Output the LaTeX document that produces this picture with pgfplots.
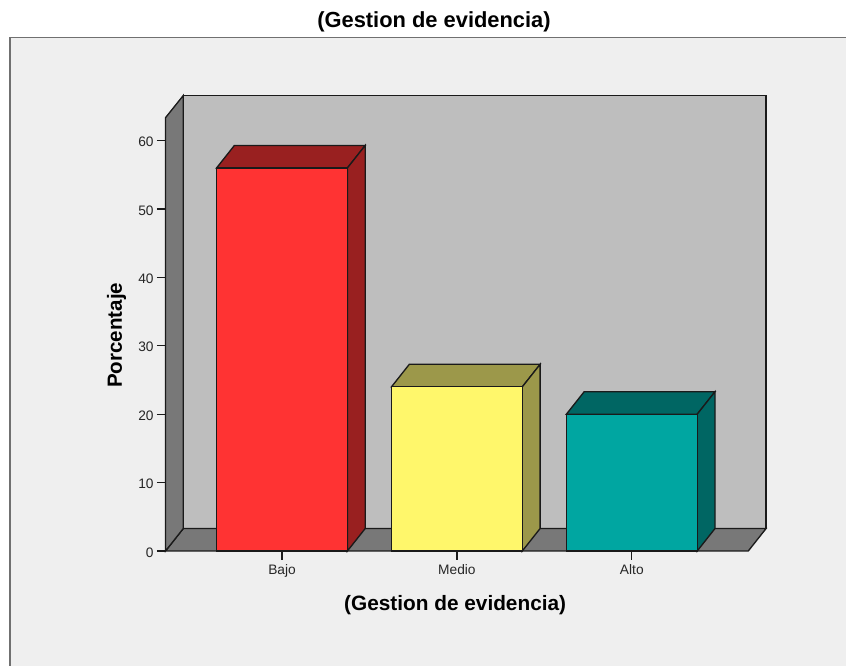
\documentclass[border=0pt]{standalone}
\usepackage{pgfplots}
\pgfplotsset{compat=1.18}
\usepackage{fontspec}
\setmainfont{Liberation Sans}
\definecolor{panel}{HTML}{EFEFEF}
\definecolor{panelline}{HTML}{707070}
\definecolor{wall}{HTML}{BEBEBE}
\definecolor{sidewall}{HTML}{787878}
\definecolor{redf}{HTML}{FF3333}
\definecolor{redd}{HTML}{992020}
\definecolor{yelf}{HTML}{FFF76B}
\definecolor{yeld}{HTML}{9C984A}
\definecolor{teaf}{HTML}{00A6A1}
\definecolor{tead}{HTML}{006663}
\definecolor{edge}{HTML}{1A1A1A}
\begin{document}
\begin{tikzpicture}
\path[use as bounding box] (0,0) rectangle (634.5pt,499.5pt);
\fill[white] (0,0) rectangle (634.5pt,499.5pt);
\fill[panel] (7.275pt,0) rectangle (634.5pt,471.4pt);
\draw[panelline,line width=1.3pt] (7.275pt,0) -- (7.275pt,471.4pt) -- (634.5pt,471.4pt);
\begin{axis}[
  at={(211.5pt,86.25pt)}, anchor=origin,
  x=131.175pt, y=5.13pt,
  xmin=-0.666, xmax=2.666, ymin=0, ymax=63.35,
  clip=false,
  axis lines=left,
  axis line style={draw=none,-},
  xtick={0,1,2}, xticklabels={Bajo,Medio,Alto},
  ytick={0,10,20,30,40,50,60},
  tick align=outside,
  tick style={edge,line width=0.9pt},
  major tick length=6.4pt,
  /pgf/number format/assume math mode=true,
  tick label style={font=\fontsize{10.3pt}{12pt}\selectfont,text=black!85},
  xticklabel style={yshift=-0.6pt},
  yticklabel style={yshift=-1pt,xshift=1pt},
  title={(Gestion de evidencia)},
  title style={at={(axis description cs:0.4607,1.203)},anchor=center,font=\bfseries\fontsize{16.4pt}{18pt}\selectfont},
  xlabel={(Gestion de evidencia)},
  xlabel style={at={(axis description cs:0.497,-0.1245)},anchor=center,font=\bfseries\fontsize{15.6pt}{18pt}\selectfont},
  ylabel={Porcentaje},
  ylabel style={at={(axis description cs:-0.084,0.498)},anchor=center,font=\bfseries\fontsize{15.4pt}{18pt}\selectfont},
]
% walls
\addplot[fill=wall,draw=edge,line width=1pt] coordinates {(-0.5642,3.29) (2.7678,3.29) (2.7678,66.6) (-0.5642,66.6)} -- cycle;
\addplot[fill=sidewall,draw=edge,line width=1pt] coordinates {(-0.666,0) (2.666,0) (2.7678,3.29) (-0.5642,3.29)} -- cycle;
\addplot[fill=sidewall,draw=edge,line width=1pt] coordinates {(-0.666,0) (-0.5642,3.29) (-0.5642,66.6) (-0.666,63.35)} -- cycle;
% Bajo
\addplot[fill=redd,draw=edge,line width=1pt] coordinates {(-0.374,56) (0.374,56) (0.4758,59.29) (-0.2722,59.29)} -- cycle;
\addplot[fill=redd,draw=edge,line width=1pt] coordinates {(0.374,0) (0.4758,3.29) (0.4758,59.29) (0.374,56)} -- cycle;
\addplot[ybar,bar shift=0pt,bar width=98.1pt,fill=redf,draw=edge,line width=1pt] coordinates {(0,56)};
% Medio
\addplot[fill=yeld,draw=edge,line width=1pt] coordinates {(0.626,24) (1.374,24) (1.4758,27.29) (0.7278,27.29)} -- cycle;
\addplot[fill=yeld,draw=edge,line width=1pt] coordinates {(1.374,0) (1.4758,3.29) (1.4758,27.29) (1.374,24)} -- cycle;
\addplot[ybar,bar shift=0pt,bar width=98.1pt,fill=yelf,draw=edge,line width=1pt] coordinates {(1,24)};
% Alto
\addplot[fill=tead,draw=edge,line width=1pt] coordinates {(1.626,20) (2.374,20) (2.4758,23.29) (1.7278,23.29)} -- cycle;
\addplot[fill=tead,draw=edge,line width=1pt] coordinates {(2.374,0) (2.4758,3.29) (2.4758,23.29) (2.374,20)} -- cycle;
\addplot[ybar,bar shift=0pt,bar width=98.1pt,fill=teaf,draw=edge,line width=1pt] coordinates {(2,20)};
\end{axis}
\end{tikzpicture}
\end{document}
